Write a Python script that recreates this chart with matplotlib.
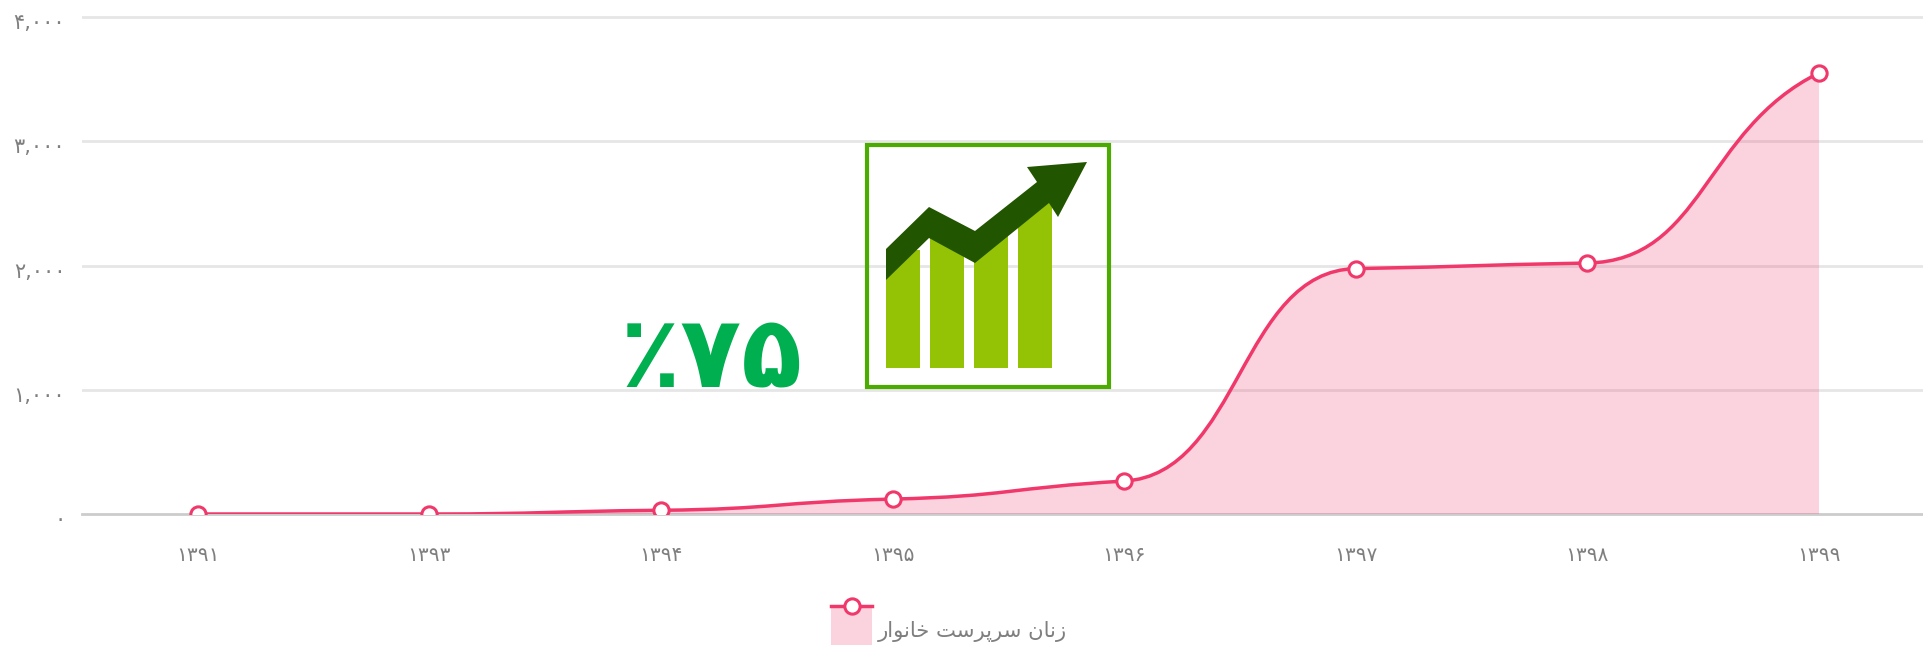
import matplotlib
matplotlib.use("Agg")
import matplotlib.pyplot as plt
from matplotlib.path import Path
from matplotlib.patches import PathPatch, Polygon, Rectangle
from matplotlib.transforms import ScaledTranslation

years = ["۱۳۹۱", "۱۳۹۳", "۱۳۹۴", "۱۳۹۵", "۱۳۹۶", "۱۳۹۷", "۱۳۹۸", "۱۳۹۹"]
values = [0, 0, 30, 120, 265, 1975, 2020, 3550]
y_ticks = [0, 1000, 2000, 3000, 4000]
y_tick_labels = ["۰", "۱,۰۰۰", "۲,۰۰۰", "۳,۰۰۰", "۴,۰۰۰"]

# matplotlib has no arabic shaping: joined forms, then reversed for display
legend_label = "\ufeaf\ufee7\ufe8e\ufee5 \ufeb3\ufeae\ufb58\ufeae\ufeb3\ufe96 \ufea7\ufe8e\ufee7\ufeee\ufe8d\ufead"[::-1]
badge_label = "٪۷۵"

# icon, in picture pixels
icon_bar_x = [886, 930, 974, 1018]
icon_bar_top = [250, 225, 235, 200]
icon_bar_bottom = 368
icon_bar_width = 34
icon_arrow = [(886, 249), (929, 207), (975, 231), (1037, 182), (1027, 167), (1087, 162),
              (1058, 217), (1049, 203), (975, 263), (929, 238), (886, 280)]

LINE = "#F0386B"
FILL = "#FBD3DF"
GRID = "#E6E6E6"
TEXT = "#7F7F7F"
W, H = 1923, 645


def tangents(y):
    slopes = [b - a for a, b in zip(y, y[1:])]
    out = [0.5 * slopes[0]]
    for a, b in zip(slopes, slopes[1:]):
        out.append(0.4 * 2 * a * b / (a + b) if a * b > 0 else 0)
    out.append(0.6 * slopes[-1])
    return out


def spline_path(y, close=False):
    m = tangents(y)
    verts = [(0, y[0])]
    codes = [Path.MOVETO]
    for i in range(len(y) - 1):
        verts += [(i + 0.5, y[i] + 0.5 * m[i]), (i + 0.5, y[i + 1] - 0.5 * m[i + 1]), (i + 1, y[i + 1])]
        codes += [Path.CURVE4] * 3
    if close:
        verts += [(len(y) - 1, 0), (0, 0), (0, 0)]
        codes += [Path.LINETO, Path.LINETO, Path.CLOSEPOLY]
    return Path(verts, codes)


fig = plt.figure(figsize=(W / 100, H / 100), dpi=100)
ax = fig.add_axes([82 / W, (H - 514) / H, (W - 82) / W, 514 / H])
x = list(range(len(values)))

ax.set_xlim(-0.5, 7.449)
ax.set_ylim(0, 4137)
for s in ax.spines.values():
    s.set_visible(False)
ax.set_yticks(y_ticks, y_tick_labels)
ax.set_xticks(x, years)
ax.tick_params(length=0)
ax.tick_params(axis="y", labelsize=15, labelcolor=TEXT, pad=12)
ax.tick_params(axis="x", labelsize=14.5, labelcolor=TEXT, pad=23)
label_shift = ScaledTranslation(0, -3 / 72, fig.dpi_scale_trans)
for lab in ax.get_yticklabels():
    lab.set_transform(lab.get_transform() + label_shift)
for v in y_ticks[1:]:
    ax.axhline(v, color=GRID, lw=2, zorder=1)
ax.axhline(0, color="#CCCCCC", lw=2, zorder=1, clip_on=False)

ax.add_patch(PathPatch(spline_path(values, close=True), fc="#F0386B", ec="none", alpha=0.22, zorder=2))
ax.add_patch(PathPatch(spline_path(values), fc="none", ec=LINE, lw=2.5, zorder=3))
ax.plot(x, values, ls="none", marker="o", ms=11, mfc="white", mec=LINE, mew=2.2, zorder=4)

# overlay in picture pixels for the icon, the badge and the legend
over = fig.add_axes([0, 0, 1, 1], facecolor="none")
over.set_xlim(0, W)
over.set_ylim(H, 0)
over.axis("off")

for bx, top in zip(icon_bar_x, icon_bar_top):
    over.bar(bx, icon_bar_bottom - top, bottom=top, width=icon_bar_width, align="edge", color="#94C306")
over.add_patch(Polygon(icon_arrow, closed=True, fc="#225500", ec="none"))
over.add_patch(Rectangle((867, 145), 242, 242, fc="none", ec="#4CAB00", lw=3))

over.text(711, 388, badge_label, color="#00B050", fontsize=72, fontweight="bold", ha="center", va="baseline",
          family="DejaVu Sans")

over.add_patch(Rectangle((831, 606), 41, 39, fc=FILL, ec="none"))
over.plot([831, 872], [606, 606], color=LINE, lw=2.5)
over.plot([851.5], [606], marker="o", ms=11, mfc="white", mec=LINE, mew=2.2)
over.text(1067, 632, legend_label, color=TEXT, fontsize=15.2, ha="right", va="center")

fig.savefig("out.png", dpi=100)
